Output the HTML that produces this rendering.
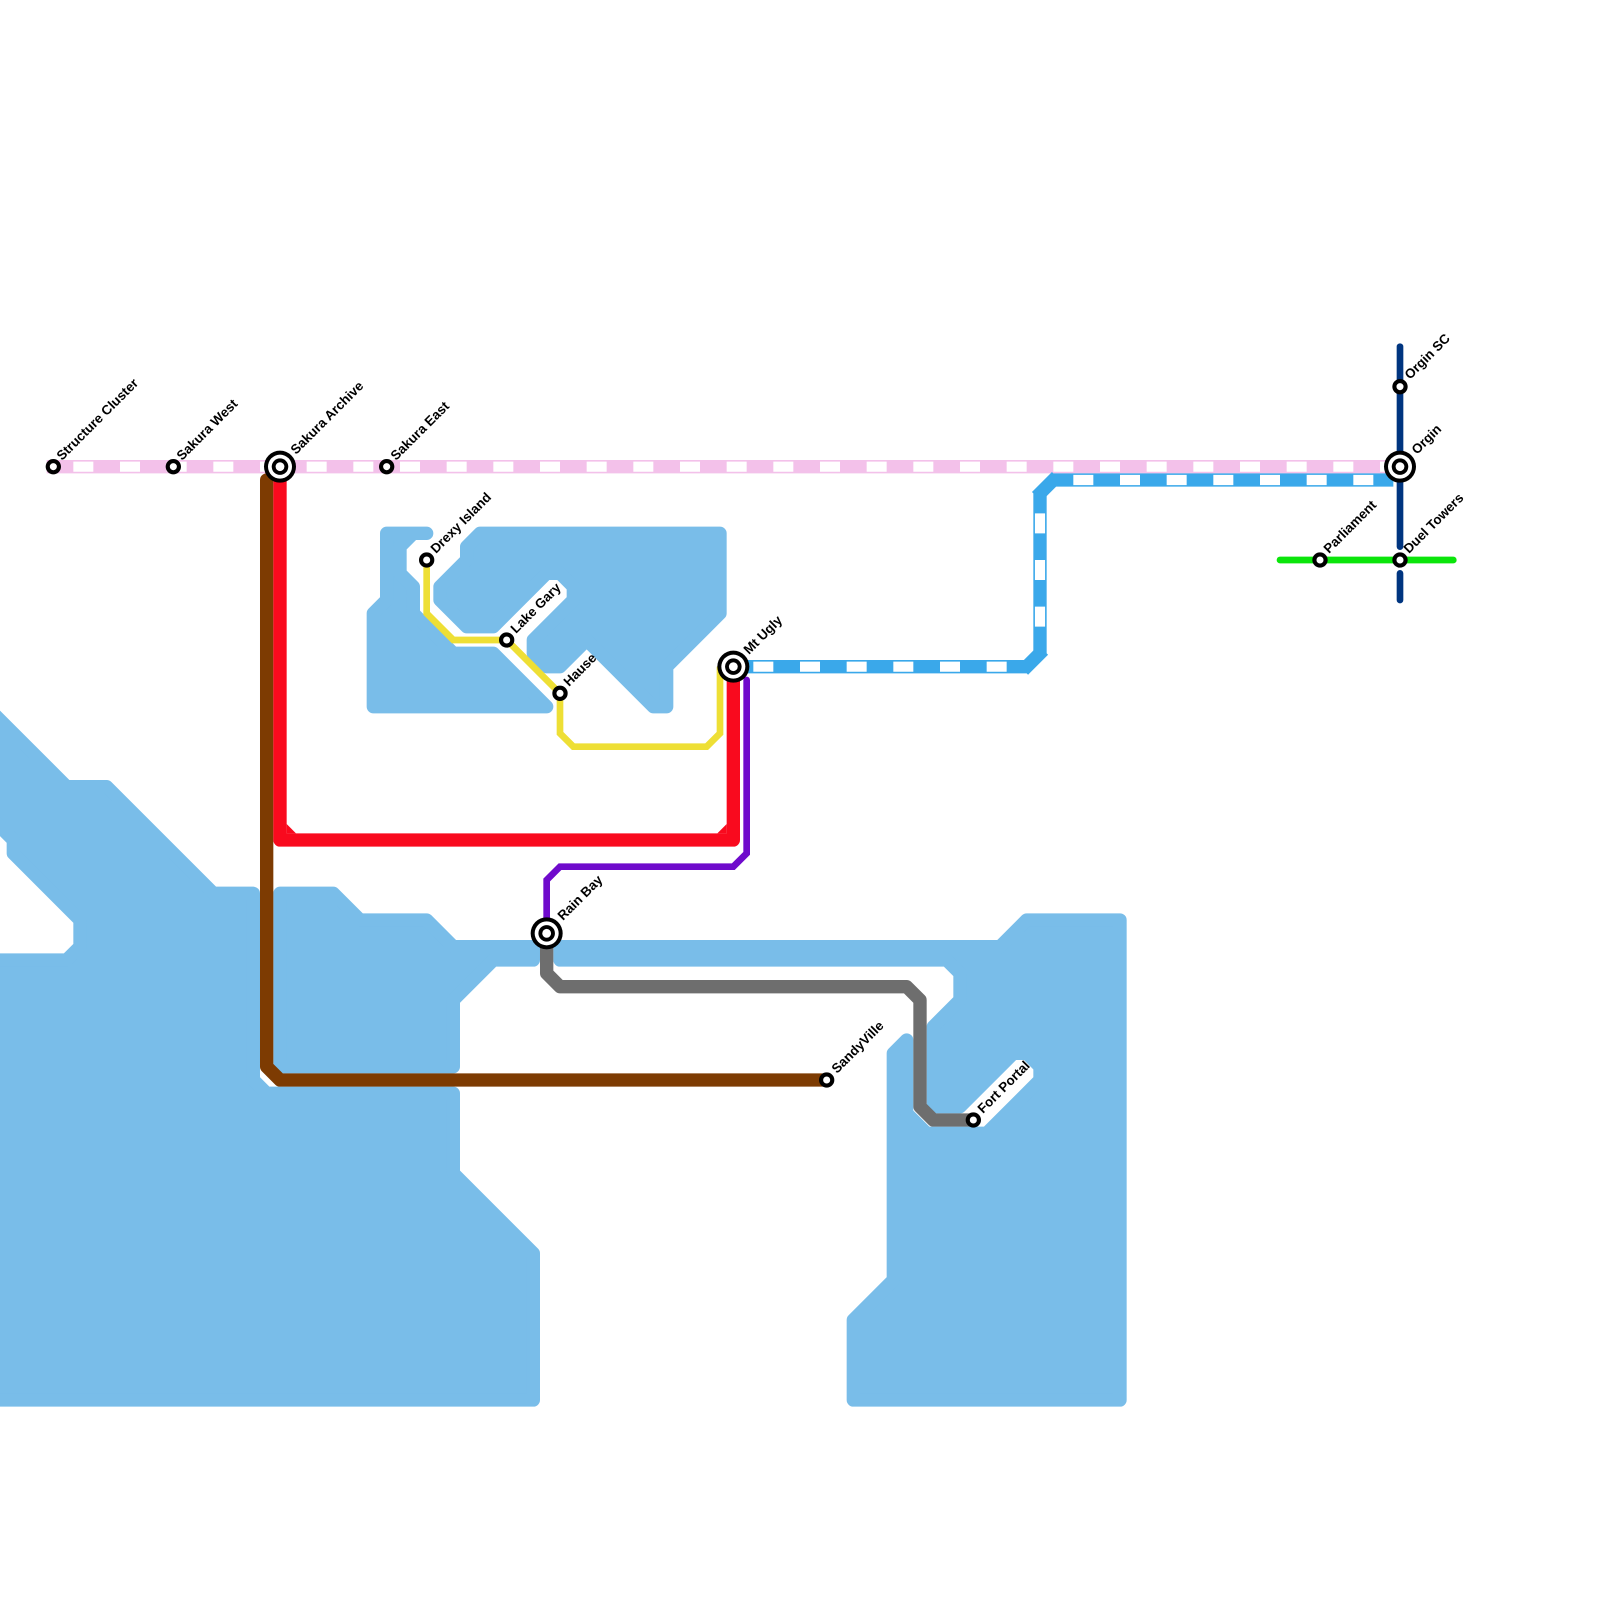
<!DOCTYPE html>
<html>
<head>
<meta charset="utf-8">
<style>
html,body{margin:0;padding:0;background:#fff;width:1600px;height:1600px;overflow:hidden}
svg{display:block}
text{font-family:"Liberation Sans",sans-serif;font-weight:bold;font-size:13.33px;fill:#000}
</style>
</head>
<body>
<svg width="1600" height="1600" viewBox="0 0 1600 1600" xmlns="http://www.w3.org/2000/svg">
<rect width="1600" height="1600" fill="#fff"/>
<g transform="scale(13.33333)">
  <!-- water -->
  <g fill="#79bde9" stroke="#79bde9" stroke-width="1" stroke-linejoin="round">
    <polygon points="29,40 32,40 31,40 30,41 30,43 31,44 31,46 34,49 37,49 41,53 28,53 28,46 29,45"/>
    <polygon points="36,40 54,40 54,46 50,50 50,53 49,53 45,49 44,48 42,50 41,50 40,49 40,48 43,45 43,44 42,43 41,43 37,47 35,47 33,45 33,44 35,42 35,41"/>
    <polygon points="-1,53 5,59 8,59 16,67 19,67 19,81 20,82 34,82 34,88 40,94 40,105 -1,105 -1,72 5,72 6,71 6,69 1,64 1,63 0,62 -1,61"/>
    <polygon points="21,67 25,67 27,69 32,69 34,71 40,71 40,72 37,72 34,75 34,80 21,80"/>
    <polygon points="42,71 75,71 77,69 84,69 84,105 64,105 64,99 67,96 67,79 68,78 68,83.5 69.5,85 74,85 78,81 78,80 77,79 76,79 72,83 70,83 70,77 72,75 72,73 71,72 42,72"/>
  </g>

  <!-- pink line -->
  <line x1="3.5" y1="35" x2="105" y2="35" stroke="#f3c1ea" stroke-width="1"/>
  <line x1="5.5" y1="35" x2="105" y2="35" stroke="#fff" stroke-width=".76" stroke-dasharray="1.5 2"/>

  <!-- azure line -->
  <g fill="none" stroke="#3aa8ea" stroke-width="1">
    <line x1="55" y1="50" x2="77" y2="50"/>
    <line x1="76.75" y1="50.25" x2="78.25" y2="48.75"/>
    <line x1="78" y1="49" x2="78" y2="37"/>
    <line x1="77.75" y1="37.25" x2="79.25" y2="35.75"/>
    <line x1="79" y1="36" x2="104.5" y2="36"/>
  </g>
  <g fill="none" stroke="#fff" stroke-width=".76" stroke-dasharray="1.5 2">
    <line x1="56.5" y1="50" x2="76" y2="50"/>
    <line x1="78" y1="38.5" x2="78" y2="47"/>
    <line x1="80.5" y1="36" x2="104" y2="36"/>
  </g>

  <!-- brown -->
  <polyline points="20,36 20,80 21,81 62,81" fill="none" stroke="#7d3b02" stroke-width="1" stroke-linecap="round" stroke-linejoin="round"/>

  <!-- red -->
  <polyline points="21,36 21,63 55,63 55,50" fill="none" stroke="#f90a1e" stroke-width="1" stroke-linejoin="round"/>
  <polygon points="21.5,61.8 22.2,62.5 21.5,62.5" fill="#f90a1e"/>
  <polygon points="54.5,61.8 53.8,62.5 54.5,62.5" fill="#f90a1e"/>

  <!-- purple -->
  <polyline points="56,51 56,64 55,65 42,65 41,66 41,70" fill="none" stroke="#6f0acc" stroke-width=".5" stroke-linecap="round"/>

  <!-- gray -->
  <polyline points="41,70 41,73 42,74 68,74 69,75 69,83 70,84 73,84" fill="none" stroke="#6e6e6e" stroke-width="1" stroke-linejoin="round"/>

  <!-- yellow -->
  <polyline points="32,42 32,46 34,48 38,48 42,52 42,55 43,56 53,56 54,55 54,50" fill="none" stroke="#eedf35" stroke-width=".5"/>

  <!-- navy -->
  <g stroke="#003580" stroke-width=".5" stroke-linecap="round">
    <line x1="105" y1="26" x2="105" y2="41"/>
    <line x1="105" y1="43" x2="105" y2="45"/>
  </g>

  <!-- green -->
  <line x1="96" y1="42" x2="109" y2="42" stroke="#0be50b" stroke-width=".5" stroke-linecap="round"/>

  <!-- normal stations -->
  <g fill="#fff" stroke="#000" stroke-width=".31">
    <circle cx="4" cy="35" r=".42"/>
    <circle cx="13" cy="35" r=".42"/>
    <circle cx="29" cy="35" r=".42"/>
    <circle cx="32" cy="42" r=".42"/>
    <circle cx="38" cy="48" r=".42"/>
    <circle cx="42" cy="52" r=".42"/>
    <circle cx="62" cy="81" r=".42"/>
    <circle cx="73" cy="84" r=".42"/>
    <circle cx="105" cy="29" r=".42"/>
    <circle cx="105" cy="42" r=".42"/>
    <circle cx="99" cy="42" r=".42"/>
  </g>
  <!-- interchange stations -->
  <g>
    <g transform="translate(21 35)"><circle r="1.2" fill="#000"/><circle r=".9" fill="#fff"/><circle r=".62" fill="#000"/><circle r=".33" fill="#fff"/></g>
    <g transform="translate(55 50)"><circle r="1.2" fill="#000"/><circle r=".9" fill="#fff"/><circle r=".62" fill="#000"/><circle r=".33" fill="#fff"/></g>
    <g transform="translate(41 70)"><circle r="1.2" fill="#000"/><circle r=".9" fill="#fff"/><circle r=".62" fill="#000"/><circle r=".33" fill="#fff"/></g>
    <g transform="translate(105 35)"><circle r="1.2" fill="#000"/><circle r=".9" fill="#fff"/><circle r=".62" fill="#000"/><circle r=".33" fill="#fff"/></g>
  </g>
</g>

<!-- labels -->
<text transform="translate(62 461) rotate(-45)">Structure Cluster</text>
<text transform="translate(182 461) rotate(-45)">Sakura West</text>
<text transform="translate(296 455) rotate(-45)">Sakura Archive</text>
<text transform="translate(396 461) rotate(-45)">Sakura East</text>
<text transform="translate(436 554) rotate(-45)">Drexy Island</text>
<text transform="translate(516 634) rotate(-45)">Lake Gary</text>
<text transform="translate(569 687) rotate(-45)">Hause</text>
<text transform="translate(749 655) rotate(-45)">Mt Ugly</text>
<text transform="translate(563 921) rotate(-45)">Rain Bay</text>
<text transform="translate(837 1074) rotate(-45)">SandyVille</text>
<text transform="translate(983 1114) rotate(-45)">Fort Portal</text>
<text transform="translate(1410 380) rotate(-45)">Orgin SC</text>
<text transform="translate(1417 455) rotate(-45)">Orgin</text>
<text transform="translate(1409 554) rotate(-45)">Duel Towers</text>
<text transform="translate(1329 554) rotate(-45)">Parliament</text>
</svg>
</body>
</html>
